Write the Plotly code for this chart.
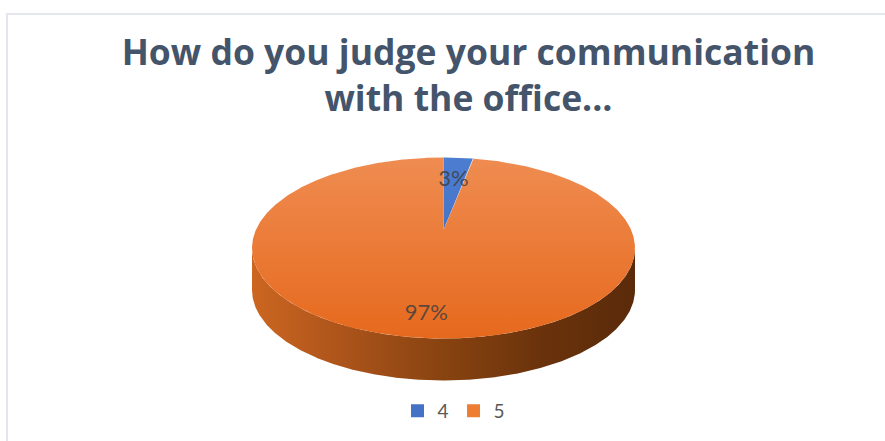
import numpy as np
import plotly.graph_objects as go

# ---- data -------------------------------------------------------------
CATEGORIES = ["4", "5"]
SHARES = [3, 97]
COLORS = ["#4472C4", "#ED7D31"]
TITLE = "How do you judge your communication<br>with the office..."

# ---- 3-D pie geometry (pixel space of an 885x441 canvas) --------------
W, H = 885, 441
CX, CY, A, B = 443.5, 248.0, 191.5, 90.5   # outline of the top face
DEPTH = 42                                  # thickness of the disc
T = np.arctanh(-0.199)                      # perspective tilt of the disc
LABEL_R = [0.64, 0.82]                      # radial placement of labels

TOP_SHADES = [("#4C7DD0", "#3D69BC"), ("#EF8C51", "#E6691D")]
SIDE_SCALE = [[0.0, "#CC6621"], [0.25, "#AA531A"], [0.5, "#884310"],
              [0.75, "#6B330C"], [1.0, "#5A2A0A"]]


def project(r, theta_deg):
    """Map a point of the unit disc (radius r, clockwise angle from 12
    o'clock) to canvas pixels, with a projective tilt."""
    th = np.radians(theta_deg)
    X = r * np.sin(th)
    Y = -r * np.cos(th)
    w = np.cosh(T) + np.sinh(T) * Y
    xp = X / w
    yp = (np.sinh(T) + np.cosh(T) * Y) / w
    return CX + A * xp, CY + B * yp


total = float(sum(SHARES))
bounds = np.concatenate([[0.0], np.cumsum(SHARES) / total * 360.0])

fig = go.Figure()
ax, ay = project(0.0, 0.0)

side_traces, top_traces, label_x, label_y, label_t = [], [], [], [], []
for i, share in enumerate(SHARES):
    a0, a1 = bounds[i], bounds[i + 1]
    th = np.linspace(a0, a1, max(int((a1 - a0) * 4), 8))
    rx, ry = project(1.0, th)

    # visible rim (front half) of this slice
    front = ry >= CY
    if front.sum() > 1:
        fx, fy = rx[front], ry[front]
        sx = np.concatenate([fx, fx[::-1], fx[:1]])
        sy = np.concatenate([fy, fy[::-1] + DEPTH, fy[:1]])
        side_traces.append(go.Scatter(
            x=sx, y=sy, mode="lines", fill="toself",
            line=dict(width=0), showlegend=False, hoverinfo="skip",
            fillgradient=dict(type="horizontal", colorscale=SIDE_SCALE,
                              start=CX - A, stop=CX + A)))

    px = np.concatenate([[ax], rx, [ax]])
    py = np.concatenate([[ay], ry, [ay]])
    c_top, c_bot = TOP_SHADES[i]
    top_traces.append(go.Scatter(
        x=px, y=py, mode="lines", fill="toself",
        line=dict(width=0), showlegend=False, hoverinfo="skip",
        fillgradient=dict(type="vertical",
                          colorscale=[[0, c_top], [1, c_bot]],
                          start=CY - B, stop=CY + B)))

    lx, ly = project(LABEL_R[i], (a0 + a1) / 2)
    label_x.append(lx)
    label_y.append(ly)
    label_t.append(f"{round(100 * share / total)}%")

for tr in side_traces + top_traces:
    fig.add_trace(tr)

fig.add_trace(go.Scatter(
    x=label_x, y=label_y, mode="text", text=label_t,
    textposition="middle center", showlegend=False, hoverinfo="skip",
    textfont=dict(family="Lato", size=22, color="rgba(64,64,64,0.85)")))

# legend entries
for name, col in zip(CATEGORIES, COLORS):
    fig.add_trace(go.Scatter(
        x=[None], y=[None], mode="markers", name=name,
        marker=dict(symbol="square", size=13, color=col)))

fig.update_layout(
    width=W, height=H, autosize=False,
    margin=dict(l=0, r=0, t=0, b=0),
    paper_bgcolor="white", plot_bgcolor="white",
    xaxis=dict(range=[0, W], visible=False, fixedrange=True),
    yaxis=dict(range=[H, 0], visible=False, fixedrange=True),
    title=dict(text=TITLE, x=468.5 / W, xanchor="center",
               y=1 - 65 / H, yanchor="top", yref="container",
               font=dict(family="Open Sans", size=35.5, color="#44546A",
                         weight="bold")),
    legend=dict(orientation="h", x=454 / W, xanchor="center",
                y=1 - 411 / H, yanchor="middle",
                font=dict(family="Lato", size=19, color="#595959"),
                itemwidth=30),
    shapes=[dict(type="rect", xref="paper", yref="paper",
                 x0=7 / W, x1=1.05, y0=-0.05, y1=1 - 14 / H,
                 line=dict(color="#E3E6EC", width=2))],
)

fig.write_html("out.html")
